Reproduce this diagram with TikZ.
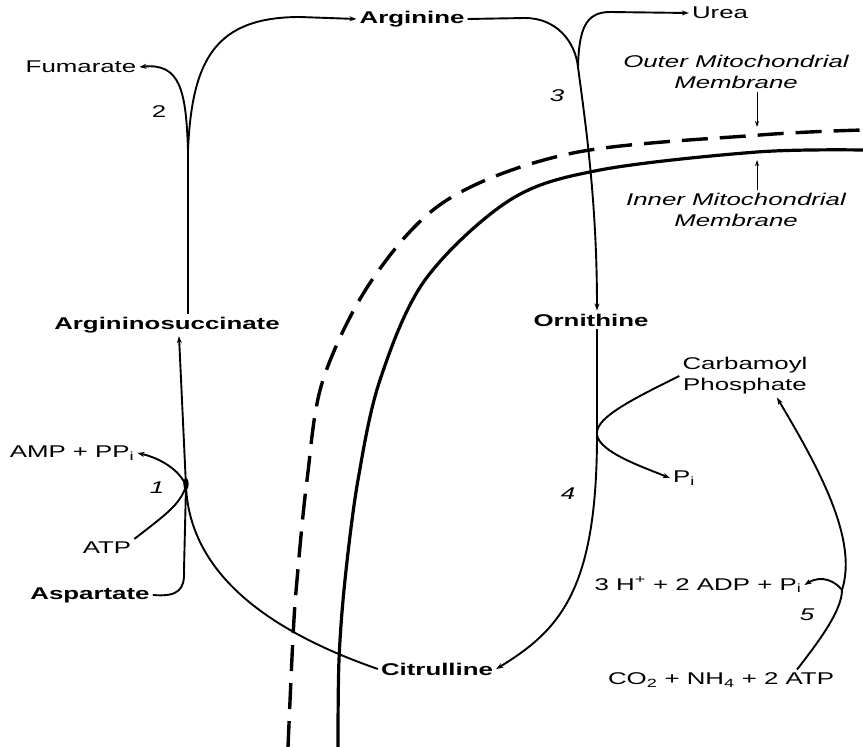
\documentclass[tikz,border=0pt]{standalone}
\usepackage{fontspec}
\setmainfont{Liberation Sans}[FakeStretch=1.52]
\usetikzlibrary{arrows.meta}
\tikzset{
  x=1pt,y=-1pt,
  every node/.style={font=\fontsize{17}{21}\selectfont, inner sep=3pt},
  met/.style={font=\fontsize{17}{21}\selectfont\bfseries},
  num/.style={font=\fontsize{17}{21}\selectfont\itshape},
  rx/.style={line width=1.9pt, -{Stealth[length=7pt,width=5pt]}},
  rxn/.style={line width=1.9pt},
  memout/.style={line width=3.4pt, dash pattern=on 26pt off 12pt},
  memin/.style={line width=3.2pt},
  lblarrow/.style={line width=0.8pt, -{Stealth[length=6pt,width=4pt]}},
}
\begin{document}
\begin{tikzpicture}
\useasboundingbox (0,0) rectangle (863,747);
% membranes
\draw[memout] plot[smooth, tension=0.55] coordinates {(288,747) (293,637) (297,580) (307,480) (323,380) (372,280) (447,200) (573,153) (760,135) (863,130)};
\draw[memin] plot[smooth, tension=0.55] coordinates {(338,747) (339,660) (345,580) (358,480) (380,380) (425,280) (510,200) (600,170) (757,152) (863,150)};
% metabolites
\node[met] (asuc) at (167,325) {Argininosuccinate};
\node[met] (arg) at (412,19) {Arginine};
\node (fum) at (81,67) {Fumarate};
\node (urea) at (720,13) {Urea};
\node[met] (orn) at (591,320) {Ornithine};
\node[met] (cit) at (437,669) {Citrulline};
\node[met] (asp) at (90,595) {Aspartate};
\node (atp) at (107,548) {ATP};
\node (amp) at (72,453) {AMP + PP\textsubscript{i}};
\node[align=center] (cp) at (745,376) {Carbamoyl\\Phosphate};
\node (pi) at (684,478) {P\textsubscript{i}};
\node (adp) at (698,585) {3 H\textsuperscript{+} + 2 ADP + P\textsubscript{i}};
\node (co2) at (721,680) {CO\textsubscript{2} + NH\textsubscript{4} + 2 ATP};
\node[num,align=center] (oml) at (736,72) {Outer Mitochondrial\\Membrane};
\node[num,align=center] (iml) at (736,210) {Inner Mitochondrial\\Membrane};
% step numbers
\node[num] (n1) at (157,488) {1};
\node (n2) at (159,112) {2};
\node[num] (n3) at (557,96) {3};
\node[num] (n4) at (568,494) {4};
\node[num] (n5) at (807,615) {5};
% junctions
\coordinate (j1) at (186,486);
\coordinate (j2) at (188,150);
\coordinate (j3) at (578,67);
\coordinate (j4) at (597,435);
\coordinate (j5) at (842,590);
\coordinate (om) at (757,127);
\coordinate (im) at (757,160);
% reaction 2
\draw[rxn] (asuc.north -| j2) -- (j2);
\draw[rx] (j2) .. controls (192,60) and (215,17) .. (300,17) -- (arg.west);
\draw[rx] (j2) .. controls (186,90) and (180,63) .. (fum.east);
% reaction 3
\draw[rxn] (arg.east) -- (525,18) .. controls (555,18) and (575,40) .. (j3);
\draw[rx] (j3) .. controls (585,120) and (597,200) .. ([xshift=6pt]orn.north);
\draw[rx] (j3) .. controls (579,30) and (585,12) .. (610,12) -- (urea.west);
% reaction 4
\draw[rxn] ([xshift=6pt]orn.south) -- (j4);
\draw[rx] (j4) .. controls (597,590) and (560,630) .. (cit.east);
\draw[rx] (cp.west) .. controls (620,405) and (595,420) .. (j4) .. controls (600,452) and (640,466) .. (pi.west);
% reaction 5
\draw[rxn] ([xshift=76pt]co2.north) .. controls (820,640) and (842,610) .. (j5);
\draw[rx] (j5) .. controls (858,540) and (820,470) .. ([xshift=32pt]cp.south);
\draw[rx] (j5) .. controls (836,582) and (822,574) .. (adp.east);
% reaction 1
\draw[rx] (j1) -- (asuc.south -| 179,0);
\draw[rxn] (cit.west) .. controls (280,635) and (190,580) .. (j1);
\draw[rxn] (asp.east) .. controls (178,597) and (185,590) .. (184,570) -- (j1);
\draw[rxn] (atp.north east) .. controls (165,515) and (180,505) .. (j1);
\draw[rx] (j1) .. controls (180,470) and (160,458) .. (amp.east);
\fill (186,484) ellipse (2.6 and 6);
% membrane labels
\draw[lblarrow] (oml.south -| om) -- (om);
\draw[lblarrow] (iml.north -| im) -- (im);
\end{tikzpicture}
\end{document}
